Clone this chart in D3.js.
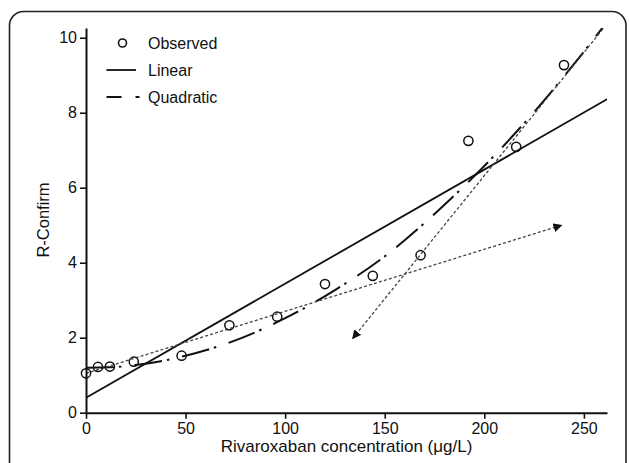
<!DOCTYPE html>
<html>
<head>
<meta charset="utf-8">
<script src="https://cdn.jsdelivr.net/npm/d3@7/dist/d3.min.js"></script>
<style>
  html, body { margin: 0; padding: 0; background: #fff; }
  svg { display: block; font-family: "Liberation Sans", Arial, sans-serif; }
</style>
</head>
<body>
<svg id="chart" width="629" height="463"></svg>
<script>
// ---- data ----
const concentrations = [0, 6, 12, 24, 48, 72, 96, 120, 144, 168, 192, 216, 240];
const observed = [1.05, 1.22, 1.23, 1.36, 1.52, 2.33, 2.56, 3.43, 3.65, 4.20, 7.25, 7.09, 9.27];

const linearX = [0, 262];
const linearY = [0.40, 8.37];

const quadraticX = [0, 12, 25, 50, 75, 100, 125, 150, 175, 200, 225, 250, 262];
const quadraticY = [1.20, 1.21, 1.27, 1.52, 1.93, 2.52, 3.27, 4.17, 5.30, 6.58, 8.02, 9.63, 10.45];

// annotation arrows (dotted)
const arrowLowX = [0, 238.8];
const arrowLowY = [1.05, 5.00];
const arrowHighX = [259.5, 133.9];
const arrowHighY = [10.23, 1.98];

const xTicks = [0, 50, 100, 150, 200, 250];
const yTicks = [0, 2, 4, 6, 8, 10];
const legendLabels = ["Observed", "Linear", "Quadratic"];
const xTitle = "Rivaroxaban concentration (\u03bcg/L)";
const yTitle = "R-Confirm";

// ---- drawing ----
const FONT = "'Liberation Sans', Arial, sans-serif";
const svg = d3.select("#chart");
const x = d3.scaleLinear().domain([0, 261.6]).range([86, 607]);
const y = d3.scaleLinear().domain([0, 10.26]).range([412.7, 28]);

// outer rounded frame
svg.append("rect")
  .attr("x", 9.5).attr("y", 11.5)
  .attr("width", 616.5).attr("height", 480)
  .attr("rx", 14).attr("ry", 14)
  .attr("fill", "none").attr("stroke", "#222").attr("stroke-width", 1.6);

const defs = svg.append("defs");
defs.append("clipPath").attr("id", "plotclip")
  .append("rect").attr("x", 86).attr("y", 28).attr("width", 521).attr("height", 385);
defs.append("marker").attr("id", "arrow")
  .attr("viewBox", "0 0 10 10").attr("refX", 9).attr("refY", 5)
  .attr("markerWidth", 9).attr("markerHeight", 9)
  .attr("markerUnits", "userSpaceOnUse").attr("orient", "auto")
  .append("path").attr("d", "M0,0L10,5L0,10Z").attr("fill", "#111");

const plot = svg.append("g").attr("clip-path", "url(#plotclip)");

const line = d3.line().x(d => x(d[0])).y(d => y(d[1]));

// linear fit
plot.append("path")
  .datum(d3.zip(linearX, linearY))
  .attr("d", line)
  .attr("fill", "none").attr("stroke", "#111").attr("stroke-width", 1.8);

// quadratic fit
plot.append("path")
  .datum(d3.zip(quadraticX, quadraticY))
  .attr("d", d3.line().x(d => x(d[0])).y(d => y(d[1])).curve(d3.curveMonotoneX))
  .attr("fill", "none").attr("stroke", "#111").attr("stroke-width", 2)
  .attr("stroke-dasharray", "28,5,2.5,13");

// dotted arrows
[[arrowLowX, arrowLowY], [arrowHighX, arrowHighY]].forEach(([ax, ay]) => {
  svg.append("path")
    .datum(d3.zip(ax, ay))
    .attr("d", line)
    .attr("fill", "none").attr("stroke", "#444").attr("stroke-width", 1.3)
    .attr("stroke-dasharray", "3,2.2")
    .attr("marker-end", "url(#arrow)");
});

// observed points
svg.append("g").selectAll("circle")
  .data(d3.zip(concentrations, observed))
  .join("circle")
  .attr("cx", d => x(d[0])).attr("cy", d => y(d[1])).attr("r", 4.6)
  .attr("fill", "none").attr("stroke", "#111").attr("stroke-width", 1.5);

// axes
const xAxis = svg.append("g").attr("transform", `translate(0,${y(0)})`)
  .call(d3.axisBottom(x).tickValues(xTicks).tickSize(6).tickSizeOuter(0).tickPadding(4));
const yAxis = svg.append("g").attr("transform", `translate(${x(0)},0)`)
  .call(d3.axisLeft(y).tickValues(yTicks).tickSize(6).tickSizeOuter(0).tickPadding(3));
[xAxis, yAxis].forEach(a => {
  a.attr("font-family", FONT).attr("font-size", 16);
  a.select(".domain").attr("stroke", "#111").attr("stroke-width", 2);
  a.selectAll(".tick line").attr("stroke", "#111").attr("stroke-width", 1.6);
  a.selectAll(".tick text").attr("fill", "#111");
});

// axis titles
svg.append("text")
  .attr("x", (x(0) + 607) / 2).attr("y", 452)
  .attr("text-anchor", "middle").attr("fill", "#111")
  .attr("font-family", FONT).attr("font-size", 17)
  .text(xTitle);
svg.append("text")
  .attr("transform", `translate(49,220) rotate(-90)`)
  .attr("text-anchor", "middle").attr("fill", "#111")
  .attr("font-family", FONT).attr("font-size", 16.5)
  .text(yTitle);

// legend
const lg = svg.append("g");
const lgY = [43, 70, 97];
lg.append("circle").attr("cx", 122.5).attr("cy", lgY[0]).attr("r", 4)
  .attr("fill", "none").attr("stroke", "#111").attr("stroke-width", 1.6);
lg.append("line").attr("x1", 106.5).attr("x2", 136).attr("y1", lgY[1]).attr("y2", lgY[1])
  .attr("stroke", "#111").attr("stroke-width", 1.8);
lg.append("line").attr("x1", 106.5).attr("x2", 139.5).attr("y1", lgY[2]).attr("y2", lgY[2])
  .attr("stroke", "#111").attr("stroke-width", 2).attr("stroke-dasharray", "15,14,4,50");
lg.selectAll("text").data(legendLabels).join("text")
  .attr("x", 148).attr("y", (d, i) => lgY[i]).attr("dy", "0.35em")
  .attr("fill", "#111").attr("font-family", FONT).attr("font-size", 16)
  .text(d => d);
</script>
</body>
</html>
